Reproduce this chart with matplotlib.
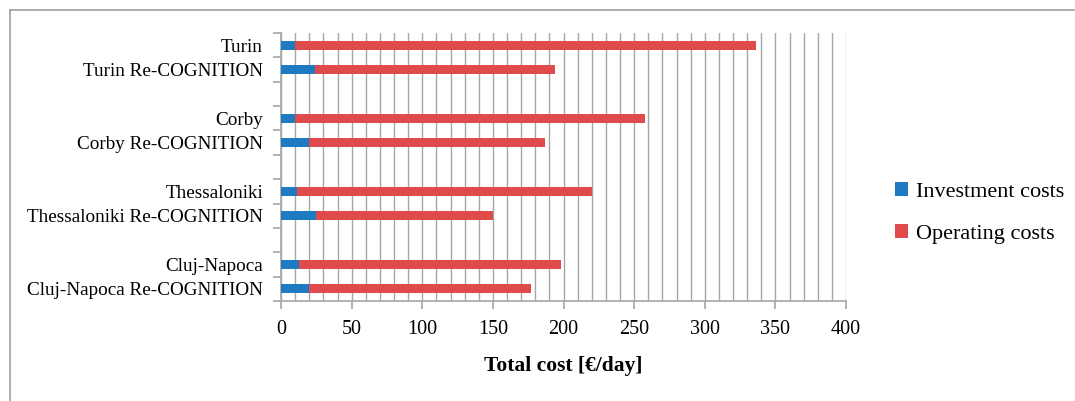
import matplotlib
matplotlib.use("Agg")
import matplotlib.pyplot as plt
from matplotlib.lines import Line2D
import numpy as np

categories = ["Turin", "Turin Re-COGNITION", "",
              "Corby", "Corby Re-COGNITION", "",
              "Thessaloniki", "Thessaloniki Re-COGNITION", "",
              "Cluj-Napoca", "Cluj-Napoca Re-COGNITION"]
investment = [10, 24, 0, 10, 20, 0, 11, 25, 0, 13, 20]
operating = [326, 170, 0, 248, 167, 0, 209, 125, 0, 185, 157]
series_names = ["Investment costs", "Operating costs"]
xticks = [0, 50, 100, 150, 200, 250, 300, 350, 400]

blue = "#1E7BC2"
red = "#DF4B4B"
grid_c = "#A6A6A6"

plt.rcParams['font.family'] = ['Liberation Serif', 'DejaVu Serif']

W, H = 1075, 401
fig = plt.figure(figsize=(W / 100, H / 100), dpi=100)

# outer border (left and top visible)
fig.add_artist(Line2D([10 / W, 10 / W], [0, 1 - 10 / H], color="#A0A0A0", lw=1.2, transform=fig.transFigure))
fig.add_artist(Line2D([10 / W, 1.0], [1 - 10 / H, 1 - 10 / H], color="#A0A0A0", lw=1.2, transform=fig.transFigure))

left, right, top, bottom = 281, 846, 33, 301
ax = fig.add_axes([left / W, 1 - bottom / H, (right - left) / W, (bottom - top) / H])

y = np.arange(len(categories))
mask = np.array([c != "" for c in categories])
yv = y[mask]
inv = np.array(investment)[mask]
op = np.array(operating)[mask]
ax.barh(yv, inv, height=0.38, color=blue, label=series_names[0], zorder=3)
ax.barh(yv, op, left=inv, height=0.38, color=red, label=series_names[1], zorder=3)

ax.set_xlim(0, 400)
ax.set_ylim(len(categories) - 0.5, -0.5)
ax.set_xticks(xticks)
ax.set_xticks(np.arange(0, 401, 10), minor=True)
ax.xaxis.grid(True, which="both", color=grid_c, lw=1.0, zorder=0)
ax.set_yticks(y)
ax.set_yticklabels(categories, fontsize=13.8)
ax.set_yticks(np.arange(-0.5, len(categories), 1.0), minor=True)
ax.tick_params(axis="y", which="major", length=0, pad=13)
ax.tick_params(axis="y", which="minor", length=6, color=grid_c, width=1.2)
ax.tick_params(axis="x", which="major", length=6, color=grid_c, width=1.2, labelsize=14.5, pad=8)
ax.tick_params(axis="x", which="minor", length=0)
for s in ["top", "right"]:
    ax.spines[s].set_visible(False)
for s in ["left", "bottom"]:
    ax.spines[s].set_color(grid_c)
    ax.spines[s].set_linewidth(1.2)

ax.set_xlabel("Total cost [€/day]", fontsize=15.5, fontweight="bold", labelpad=12)

ax.legend(loc="center left", bbox_to_anchor=(875 / W, 1 - 213 / H), bbox_transform=fig.transFigure,
          frameon=False, fontsize=16, handlelength=0.6, handleheight=0.6, handletextpad=0.35,
          labelspacing=1.0)

fig.savefig("out.png", dpi=100)
